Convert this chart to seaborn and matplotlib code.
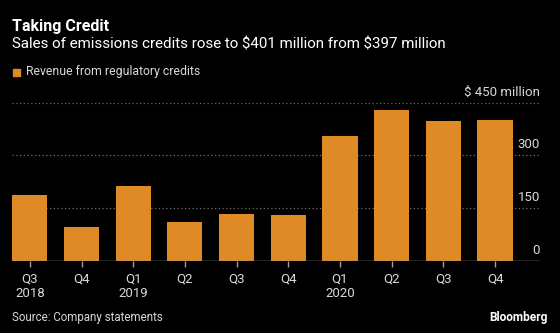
import matplotlib
matplotlib.use("Agg")
import matplotlib.pyplot as plt
import seaborn as sns
import pandas as pd

quarters = ["Q3", "Q4", "Q1", "Q2", "Q3", "Q4", "Q1", "Q2", "Q3", "Q4"]
years = ["2018", "", "2019", "", "", "", "2020", "", "", ""]
revenue = [188, 96, 214, 110, 134, 131, 355, 429, 397, 401]
yticks = [0, 150, 300, 450]
ytick_labels = ["0", "150", "300", "\\$ 450 million"]

sns.set_theme(style="dark")
plt.rcParams["font.family"] = ["Roboto", "DejaVu Sans"]

BG = "#000000"
BAR = "#DD8A27"
TXT = "#D9D9D9"
GRID = "#6E6E6E"

labels = [f"{q}\n{y}" if y else q for q, y in zip(quarters, years)]
df = pd.DataFrame({"label": [f"{i}" for i in range(len(revenue))], "revenue": revenue})

fig = plt.figure(figsize=(5.6, 3.33), dpi=100, facecolor=BG)
ax = fig.add_axes([12/560, 1-261/333, (540-12)/560, (261-102.7)/333])
ax.set_facecolor(BG)

sns.barplot(data=df, x="label", y="revenue", color=BAR, width=0.68,
            saturation=1, ax=ax, zorder=3, linewidth=0, edgecolor="none")
ax.set_xlim(-0.345, 9.87)
ax.set_ylim(0, 450)

for yv, lab in zip(yticks, ytick_labels):
    if yv > 0:
        ax.axhline(yv, color=GRID, lw=0.9, ls=(0, (1, 2)), zorder=1)
    ax.text(1.0, yv + 12, lab, transform=ax.get_yaxis_transform(),
            ha="right", va="bottom", color=TXT, fontsize=9.5)
ax.axhline(0, color="#A0A0A0", lw=1.0, zorder=4)

ax.set_yticks([])
ax.set_xticks(range(len(labels)))
ax.set_xticklabels(labels, color=TXT, fontsize=9.5, linespacing=1.15)
ax.tick_params(axis="x", length=4, width=1, color="#A0A0A0", pad=4, bottom=True)
ax.set_xlabel("")
ax.set_ylabel("")
for s in ax.spines.values():
    s.set_visible(False)
ax.grid(False)

fig.text(12/560, 1-27/333, "Taking Credit", color="white", fontsize=11.5,
         fontweight="bold", va="center", ha="left")
fig.text(12/560, 1-45/333, "Sales of emissions credits rose to \\$401 million from \\$397 million",
         color="white", fontsize=10.9, va="center", ha="left")
fig.patches.append(plt.Rectangle((13/560, 1-76/333), 7/560, 7/333,
                                 transform=fig.transFigure, color=BAR, figure=fig))
fig.text(26/560, 1-72/333, "Revenue from regulatory credits", color=TXT,
         fontsize=8.8, va="center", ha="left")
fig.text(12/560, 1-317/333, "Source: Company statements", color=TXT,
         fontsize=8.3, va="center", ha="left")
fig.text(548/560, 1-317/333, "Bloomberg", color="white", fontsize=8.6,
         fontweight="bold", va="center", ha="right")

fig.savefig("out.png", dpi=100, facecolor=BG)
